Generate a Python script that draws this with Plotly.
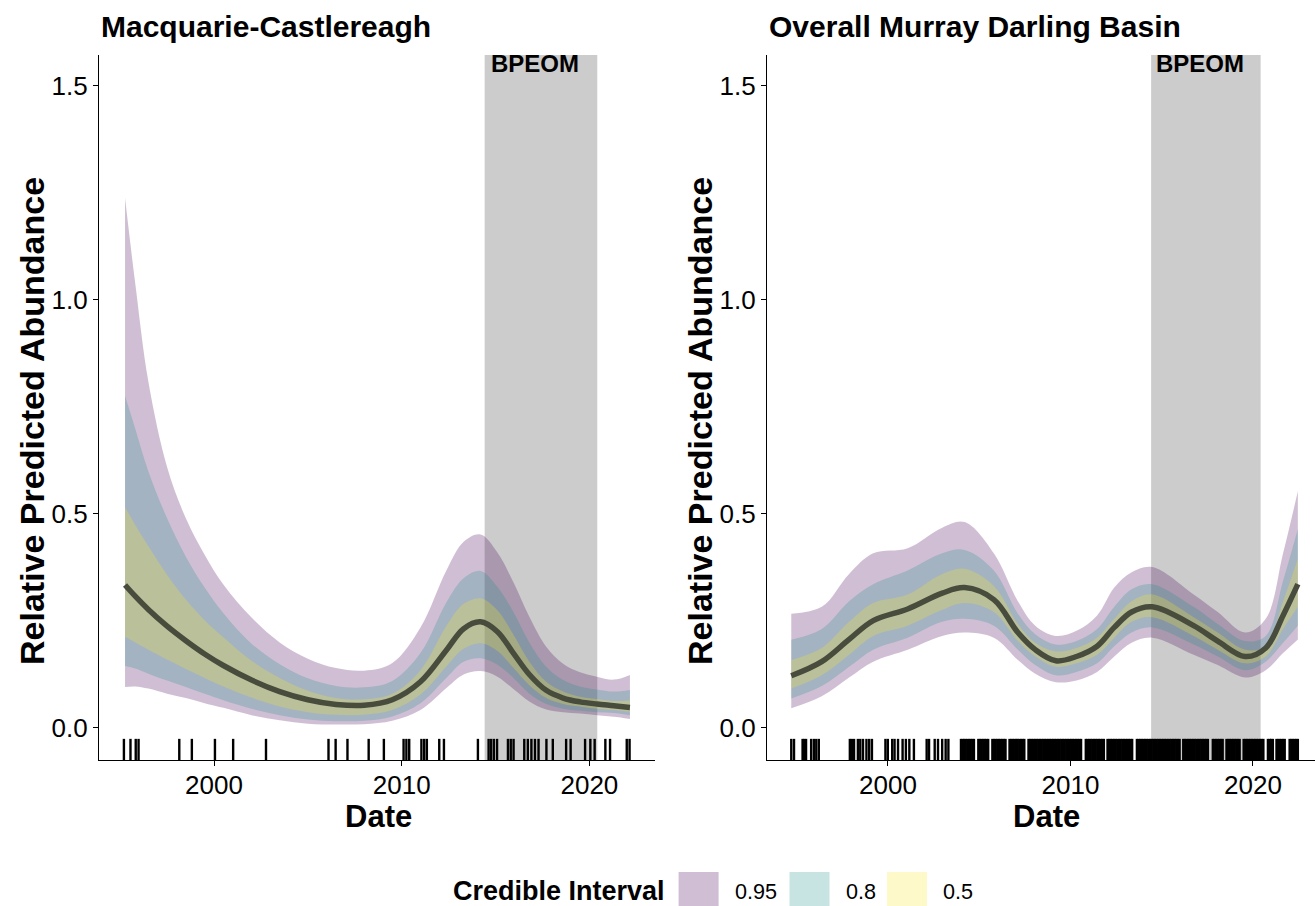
import plotly.graph_objects as go

# ---------------- Macquarie-Castlereagh ----------------
mc_year = [1995.26, 1995.8, 1996.5, 1997.5, 1998.5, 1999.5, 2000.5, 2002.0, 2003.5, 2005.0,
           2006.5, 2008.0, 2009.5, 2011.0, 2012.4, 2013.3, 2014.2, 2015.1, 2015.9, 2016.8,
           2017.7, 2018.6, 2019.5, 2020.4, 2021.3, 2022.16]
mc_med = [0.334, 0.308, 0.277, 0.238, 0.204, 0.173, 0.146, 0.112, 0.085, 0.066,
          0.055, 0.053, 0.066, 0.108, 0.183, 0.232, 0.248, 0.225, 0.178, 0.125,
          0.088, 0.07, 0.061, 0.056, 0.052, 0.048]
mc_hi95 = [1.238, 1.04, 0.81, 0.61, 0.49, 0.405, 0.335, 0.258, 0.2, 0.162,
           0.14, 0.134, 0.152, 0.235, 0.37, 0.435, 0.452, 0.41, 0.345, 0.26,
           0.19, 0.15, 0.13, 0.12, 0.113, 0.124]
mc_hi80 = [0.776, 0.70, 0.60, 0.49, 0.40, 0.328, 0.268, 0.197, 0.149, 0.116,
           0.098, 0.095, 0.11, 0.175, 0.295, 0.35, 0.367, 0.33, 0.275, 0.2,
           0.143, 0.112, 0.097, 0.09, 0.085, 0.089]
mc_hi50 = [0.516, 0.475, 0.425, 0.358, 0.30, 0.252, 0.212, 0.157, 0.117, 0.087,
           0.07, 0.067, 0.08, 0.135, 0.24, 0.29, 0.303, 0.275, 0.222, 0.155,
           0.108, 0.085, 0.073, 0.068, 0.063, 0.065]
mc_lo50 = [0.213, 0.2, 0.183, 0.16, 0.138, 0.117, 0.097, 0.071, 0.05, 0.037,
           0.031, 0.031, 0.042, 0.078, 0.145, 0.185, 0.198, 0.18, 0.143, 0.1,
           0.07, 0.056, 0.05, 0.045, 0.042, 0.038]
mc_lo80 = [0.145, 0.139, 0.127, 0.111, 0.096, 0.08, 0.065, 0.045, 0.03, 0.02,
           0.016, 0.017, 0.027, 0.058, 0.118, 0.155, 0.163, 0.148, 0.119, 0.08,
           0.056, 0.045, 0.04, 0.037, 0.035, 0.03]
mc_lo95 = [0.096, 0.097, 0.092, 0.08, 0.07, 0.058, 0.047, 0.03, 0.018, 0.01,
           0.008, 0.009, 0.017, 0.042, 0.094, 0.125, 0.133, 0.12, 0.093, 0.062,
           0.043, 0.037, 0.034, 0.03, 0.026, 0.021]
mc_obs = [1995.20, 1995.55, 1995.83, 1995.98, 1998.15, 1998.82, 2000.05, 2001.02, 2002.77,
          2006.10, 2006.48, 2007.11, 2008.24, 2009.05, 2010.10, 2010.25, 2010.40, 2011.05,
          2011.20, 2011.34, 2012.00, 2012.25, 2014.06, 2014.63, 2014.76, 2014.91, 2015.08,
          2015.66, 2015.81, 2015.96, 2016.53, 2016.72, 2016.91, 2017.10, 2017.29, 2017.71,
          2018.05, 2018.76, 2019.00, 2019.77, 2020.05, 2020.28, 2020.85, 2021.10, 2021.99,
          2022.14]

# ---------------- Overall Murray Darling Basin ----------------
mdb_year = [1994.70, 1996.37, 1997.87, 1999.19, 2001.08, 2002.97, 2004.20, 2005.80, 2007.12,
            2008.07, 2009.20, 2010.33, 2011.46, 2012.40, 2013.35, 2014.48, 2016.75, 2018.07,
            2019.57, 2020.70, 2021.65, 2022.46]
mdb_med = [0.122, 0.155, 0.207, 0.251, 0.278, 0.315, 0.328, 0.30, 0.223, 0.183, 0.157, 0.167,
           0.191, 0.235, 0.271, 0.283, 0.239, 0.203, 0.167, 0.187, 0.263, 0.336]
mdb_hi95 = [0.267, 0.283, 0.36, 0.408, 0.42, 0.468, 0.481, 0.408, 0.296, 0.239, 0.215, 0.227,
            0.263, 0.328, 0.364, 0.376, 0.312, 0.271, 0.223, 0.255, 0.408, 0.553]
mdb_hi80 = [0.206, 0.231, 0.296, 0.336, 0.368, 0.408, 0.416, 0.368, 0.267, 0.219, 0.195, 0.203,
            0.231, 0.283, 0.324, 0.336, 0.283, 0.243, 0.203, 0.215, 0.344, 0.465]
mdb_hi50 = [0.159, 0.187, 0.248, 0.292, 0.312, 0.36, 0.372, 0.332, 0.243, 0.199, 0.179, 0.187,
            0.211, 0.255, 0.296, 0.312, 0.259, 0.223, 0.183, 0.191, 0.296, 0.396]
mdb_lo50 = [0.092, 0.123, 0.171, 0.215, 0.239, 0.276, 0.292, 0.271, 0.203, 0.167, 0.143, 0.151,
            0.171, 0.211, 0.248, 0.259, 0.215, 0.183, 0.151, 0.167, 0.231, 0.283]
mdb_lo80 = [0.069, 0.098, 0.143, 0.183, 0.211, 0.248, 0.255, 0.239, 0.183, 0.147, 0.123, 0.131,
            0.151, 0.191, 0.223, 0.235, 0.195, 0.167, 0.135, 0.155, 0.199, 0.239]
mdb_lo95 = [0.046, 0.074, 0.118, 0.155, 0.183, 0.215, 0.223, 0.211, 0.159, 0.127, 0.107, 0.111,
            0.131, 0.167, 0.199, 0.211, 0.171, 0.147, 0.118, 0.135, 0.175, 0.207]
mdb_obs = [
    1994.70, 1994.85, 1995.32, 1995.41, 1995.51, 1995.79, 1995.94, 1996.07, 1996.21,
    1997.91, 1998.02, 1998.14, 1998.35, 1998.48, 1998.63, 1998.82, 1998.97, 1999.12,
    1999.86, 1999.99, 2000.23, 2000.36, 2000.55, 2000.80, 2000.98, 2001.17, 2001.42,
    2002.12, 2002.25, 2002.56, 2002.74, 2002.97, 2003.16, 2003.31,
    2004.00, 2004.09, 2004.17, 2004.26, 2004.35, 2004.44, 2004.53, 2004.62, 2004.71,
    2004.95, 2005.04, 2005.13, 2005.22, 2005.31, 2005.40, 2005.49,
    2005.72, 2005.81, 2005.90, 2005.99, 2006.08, 2006.17, 2006.26, 2006.35, 2006.44,
    2006.66, 2006.75, 2006.84, 2006.93, 2007.02, 2007.11, 2007.20, 2007.29, 2007.38, 2007.47,
    2007.70, 2007.79, 2007.88, 2007.97, 2008.06, 2008.15, 2008.24, 2008.33, 2008.42, 2008.51,
    2008.60, 2008.69, 2008.78, 2008.87, 2008.96, 2009.05, 2009.14, 2009.23, 2009.32, 2009.41,
    2009.50, 2009.59, 2009.68, 2009.77, 2009.86, 2009.95, 2010.04, 2010.13, 2010.22, 2010.31,
    2010.40, 2010.49, 2010.58,
    2010.84, 2010.93, 2011.02, 2011.11, 2011.20, 2011.29, 2011.38, 2011.47, 2011.56, 2011.65,
    2011.74, 2011.83,
    2012.03, 2012.12, 2012.21, 2012.30, 2012.39, 2012.48, 2012.57, 2012.66, 2012.75, 2012.84,
    2012.93, 2013.02, 2013.11, 2013.20, 2013.29, 2013.38,
    2013.64, 2013.73, 2013.82, 2013.91, 2014.00, 2014.09, 2014.18, 2014.27, 2014.36, 2014.45,
    2014.54, 2014.63, 2014.72, 2014.81, 2014.90, 2014.99, 2015.08, 2015.17, 2015.26, 2015.35,
    2015.44, 2015.53, 2015.62, 2015.71, 2015.80, 2015.89, 2015.98,
    2016.18, 2016.27, 2016.36, 2016.45, 2016.54, 2016.63, 2016.72, 2016.81, 2016.90, 2016.99,
    2017.08, 2017.17, 2017.26, 2017.35, 2017.44, 2017.53,
    2017.80, 2017.89, 2017.98, 2018.07, 2018.16, 2018.25, 2018.34,
    2018.55, 2018.64, 2018.73, 2018.82, 2018.91, 2019.00, 2019.09, 2019.18, 2019.27,
    2019.49, 2019.58, 2019.67, 2019.76, 2019.85, 2019.94, 2020.03, 2020.12, 2020.21, 2020.30,
    2020.39, 2020.48, 2020.57,
    2020.82, 2020.91, 2021.00, 2021.09,
    2021.29, 2021.38, 2021.47, 2021.56, 2021.65, 2021.74,
    2022.01, 2022.10, 2022.19, 2022.28, 2022.37, 2022.46,
]

# BPEOM period and shared axis settings
bpeom_span = (2014.42, 2020.42)
y_ticks = [0.0, 0.5, 1.0, 1.5]
x_ticks = [2000, 2010, 2020]
interval_levels = ["0.95", "0.8", "0.5"]
band_colours = {
    "0.95": "rgba(68,1,84,0.25)",
    "0.8": "rgba(33,144,140,0.25)",
    "0.5": "rgba(253,231,37,0.25)",
}
median_colour = "rgb(72,76,60)"

W, H = 1315, 906
FONT = "Liberation Sans, Arial, Helvetica, sans-serif"
Y_RANGE = [-0.0748, 1.5724]


def px_x(p):
    return p / W


def px_y(p):
    return 1 - p / H


panels = [
    dict(title="Macquarie-Castlereagh", x="x", y="y", year=mc_year, med=mc_med,
         bands={"0.95": (mc_lo95, mc_hi95), "0.8": (mc_lo80, mc_hi80), "0.5": (mc_lo50, mc_hi50)},
         obs=mc_obs, left=99, xrange=[1993.873, 2023.495]),
    dict(title="Overall Murray Darling Basin", x="x2", y="y2", year=mdb_year, med=mdb_med,
         bands={"0.95": (mdb_lo95, mdb_hi95), "0.8": (mdb_lo80, mdb_hi80), "0.5": (mdb_lo50, mdb_hi50)},
         obs=mdb_obs, left=767, xrange=[1993.37, 2023.40]),
]

fig = go.Figure()
shapes = []
annotations = []

rug_top = Y_RANGE[0] + 0.03 * (Y_RANGE[1] - Y_RANGE[0])

for p in panels:
    # credible-interval ribbons
    for lvl in interval_levels:
        lo, hi = p["bands"][lvl]
        fig.add_trace(go.Scatter(x=p["year"], y=lo, xaxis=p["x"], yaxis=p["y"], mode="lines",
                                 line=dict(width=0, shape="spline"), hoverinfo="skip",
                                 showlegend=False))
        fig.add_trace(go.Scatter(x=p["year"], y=hi, xaxis=p["x"], yaxis=p["y"], mode="lines",
                                 line=dict(width=0, shape="spline"), fill="tonexty",
                                 fillcolor=band_colours[lvl], name=lvl, showlegend=False))
    # posterior median
    fig.add_trace(go.Scatter(x=p["year"], y=p["med"], xaxis=p["x"], yaxis=p["y"], mode="lines",
                             line=dict(color=median_colour, width=5.5, shape="spline"),
                             showlegend=False))
    # rug of survey dates
    rx, ry = [], []
    for d in p["obs"]:
        rx += [d, d, None]
        ry += [Y_RANGE[0], rug_top, None]
    fig.add_trace(go.Scatter(x=rx, y=ry, xaxis=p["x"], yaxis=p["y"], mode="lines",
                             line=dict(color="black", width=2.4), hoverinfo="skip",
                             showlegend=False))
    # BPEOM window
    shapes.append(dict(type="rect", xref=p["x"], yref=p["y"] + " domain",
                       x0=bpeom_span[0], x1=bpeom_span[1], y0=0, y1=1,
                       fillcolor="#CCCCCC", line=dict(width=0), layer="below"))
    annotations.append(dict(text="<b>BPEOM</b>", xref=p["x"], yref=p["y"] + " domain",
                            x=(bpeom_span[0] + bpeom_span[1]) / 2 - 0.3, y=1, yanchor="top",
                            xanchor="center", showarrow=False, yshift=7,
                            font=dict(family=FONT, size=24, color="black")))
    # panel title
    annotations.append(dict(text="<b>" + p["title"] + "</b>", xref="paper", yref="paper",
                            x=px_x(p["left"] + 0), y=px_y(26), xanchor="left", yanchor="middle",
                            showarrow=False, font=dict(family=FONT, size=30, color="black")))
    # axis titles
    annotations.append(dict(text="<b>Date</b>", xref="paper", yref="paper",
                            x=px_x(p["left"] + 279), y=px_y(816),
                            xanchor="center", yanchor="middle", showarrow=False,
                            font=dict(family=FONT, size=31, color="black")))
    annotations.append(dict(text="<b>Relative Predicted Abundance</b>", xref="paper", yref="paper",
                            x=px_x(p["left"] - 67), y=px_y(421), textangle=-90,
                            xanchor="center", yanchor="middle", showarrow=False,
                            font=dict(family=FONT, size=34, color="black")))

axis_common = dict(showline=True, linecolor="black", linewidth=1.3, ticks="outside",
                   ticklen=5, tickwidth=1.2, tickcolor="black", showgrid=False, zeroline=False,
                   tickfont=dict(family=FONT, size=26, color="black"), automargin=False)

layout_axes = {}
for i, p in enumerate(panels):
    sx = "" if i == 0 else str(i + 1)
    layout_axes["xaxis" + sx] = dict(axis_common,
                                     domain=[px_x(p["left"]), px_x(p["left"] + 556) if i == 0 else 1.0],
                                     range=p["xrange"], tickvals=x_ticks, ticklabelstandoff=-3,
                                     ticktext=[str(t) for t in x_ticks], anchor="y" + sx)
    layout_axes["yaxis" + sx] = dict(axis_common, domain=[px_y(760), px_y(55)], range=Y_RANGE,
                                     tickvals=y_ticks, ticktext=[f"{t:.1f}" for t in y_ticks],
                                     anchor="x" + sx)

# legend: title, keys and labels along the bottom
annotations.append(dict(text="<b>Credible Interval</b>", xref="paper", yref="paper",
                        x=px_x(451), y=px_y(891), xanchor="left", yanchor="middle",
                        showarrow=False, font=dict(family=FONT, size=27, color="black")))
key_left = [678.6, 789.5, 887.0]
for lvl, kx in zip(interval_levels, key_left):
    shapes.append(dict(type="rect", xref="paper", yref="paper", x0=px_x(kx), x1=px_x(kx + 40),
                       y0=px_y(912), y1=px_y(872), fillcolor=band_colours[lvl],
                       line=dict(width=0), layer="above"))
    annotations.append(dict(text=lvl, xref="paper", yref="paper", x=px_x(kx + 54), y=px_y(891),
                            xanchor="left", yanchor="middle", showarrow=False,
                            font=dict(family=FONT, size=21.6, color="black")))

fig.update_layout(
    width=W, height=H,
    margin=dict(l=0, r=0, t=0, b=0),
    paper_bgcolor="white", plot_bgcolor="white",
    showlegend=False,
    shapes=shapes, annotations=annotations,
    **layout_axes,
)

fig.write_html("out.html", config={"displayModeBar": False})
